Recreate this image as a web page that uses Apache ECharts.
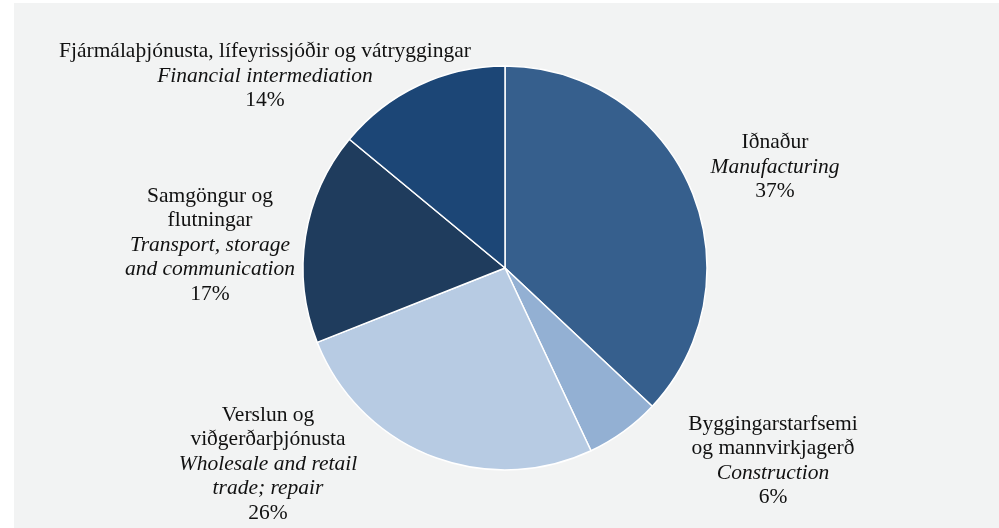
<!DOCTYPE html>
<html>
<head>
<meta charset="utf-8">
<script src="https://cdn.jsdelivr.net/npm/echarts@6/dist/echarts.min.js"></script>
<style>
  html, body { margin: 0; padding: 0; background: #ffffff; }
  #chart { position: absolute; left: 14px; top: 3px; width: 985px; height: 525px; background: #f2f3f3; }
</style>
</head>
<body>
<div id="chart"></div>
<script>
// Sector shares of value added, clockwise from 12 o'clock
const namesIs = [
  'Iðnaður',
  'Byggingarstarfsemi\nog mannvirkjagerð',
  'Verslun og\nviðgerðarþjónusta',
  'Samgöngur og\nflutningar',
  'Fjármálaþjónusta, lífeyrissjóðir og vátryggingar'
];
const namesEn = [
  'Manufacturing',
  'Construction',
  'Wholesale and retail\ntrade; repair',
  'Transport, storage\nand communication',
  'Financial intermediation'
];
const shares = [37, 6, 26, 17, 14];
const colors = ['#365f8d', '#93b0d3', '#b7cbe3', '#1f3c5d', '#1c4676'];

// Label block centres (chart-local pixels)
const labelPos = [
  [761, 164],
  [759, 458],
  [254, 461],
  [196, 242],
  [251, 73]
];

const FONT = '"Liberation Serif", "Times New Roman", serif';
const SIZE = 21.5;
const LH = 24.5;

const chart = echarts.init(document.getElementById('chart'));
chart.setOption({
  animation: false,
  series: [{
    type: 'pie',
    center: [491, 265],
    radius: 202,
    startAngle: 90,
    clockwise: true,
    label: {
      show: true,
      overflow: 'none',
      fontFamily: FONT,
      fontSize: SIZE,
      lineHeight: LH,
      color: '#111111',
      align: 'center',
      formatter: function (p) {
        const en = namesEn[p.dataIndex].split('\n').map(s => '{i|' + s + '}').join('\n');
        return '{n|' + namesIs[p.dataIndex].split('\n').join('}\n{n|') + '}\n' + en + '\n{n|' + p.value + '%}';
      },
      rich: {
        n: { fontFamily: FONT, fontSize: SIZE, lineHeight: LH, color: '#111111', align: 'center' },
        i: { fontFamily: FONT, fontSize: SIZE, lineHeight: LH, fontStyle: 'italic', color: '#111111', align: 'center' }
      }
    },
    labelLine: { show: false },
    labelLayout: function (p) {
      return { x: labelPos[p.dataIndex][0], y: labelPos[p.dataIndex][1], align: 'center', verticalAlign: 'middle' };
    },
    itemStyle: { borderColor: '#ffffff', borderWidth: 1.5 },
    emphasis: { disabled: true },
    data: shares.map((v, i) => ({ value: v, name: namesEn[i], itemStyle: { color: colors[i] } }))
  }]
});
</script>
</body>
</html>
